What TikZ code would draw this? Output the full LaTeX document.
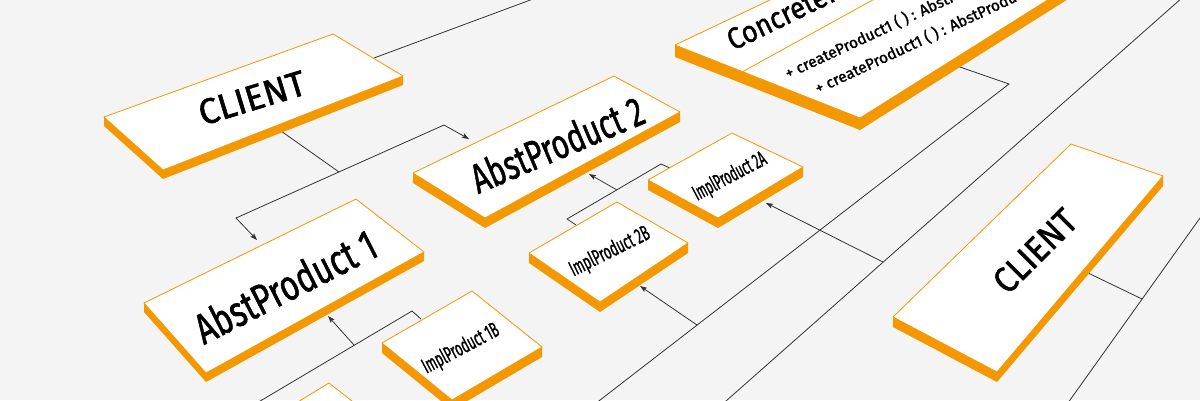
\documentclass[tikz,border=0pt]{standalone}
\usepackage{fontspec}
\setmainfont{Fira Sans}
\newfontfamily\labelfont{Fira Sans}[FakeBold=1.5]
\usepackage{graphicx}
\usetikzlibrary{arrows.meta, calc}
\definecolor{slaborange}{RGB}{243,152,0}
\definecolor{wiregray}{RGB}{51,51,51}
\definecolor{paper}{RGB}{244,244,244}
\tikzset{
  slabtop/.style={fill=white, draw=slaborange, line width=0.8pt, line join=round},
  slabside/.style={fill=slaborange},
  wire/.style={draw=wiregray, line width=0.8pt},
  >={Stealth[length=7pt,width=5pt,inset=1.5pt]},
  lbl/.style={inner sep=0pt, text=black, font=\labelfont},
}
% a slab: top face L-T-R-B plus the two visible sides, #2 = thickness
\newcommand{\slab}[2]{%
  \fill[slabside] (#1-L) -- (#1-B) -- (#1-R) -- ($(#1-R)+(0,#2)$)
    -- ($(#1-B)+(0,#2)$) -- ($(#1-L)+(0,#2)$) -- cycle;
  \filldraw[slabtop] (#1-L) -- (#1-T) -- (#1-R) -- (#1-B) -- cycle;
}

\begin{document}
\begin{tikzpicture}[x=1pt, y=-1pt]
  \useasboundingbox (0,0) rectangle (1200,400);
  \clip (0,0) rectangle (1200,400);
  \fill[paper] (0,0) rectangle (1200,400);

  % corners of the slabs
  \coordinate (cl1-L) at (104,117); \coordinate (cl1-T) at (333,34);
  \coordinate (cl1-R) at (403,76);  \coordinate (cl1-B) at (163,170);
  \coordinate (ap1-L) at (144,303); \coordinate (ap1-T) at (356,199);
  \coordinate (ap1-R) at (424,252); \coordinate (ap1-B) at (206,373);
  \coordinate (ap2-L) at (413,173); \coordinate (ap2-T) at (614,76);
  \coordinate (ap2-R) at (680,112); \coordinate (ap2-B) at (485,218);
  \coordinate (i2a-L) at (648,180); \coordinate (i2a-T) at (732,133);
  \coordinate (i2a-R) at (803,167); \coordinate (i2a-B) at (718,218);
  \coordinate (i2b-L) at (529,253); \coordinate (i2b-T) at (617,202);
  \coordinate (i2b-R) at (688,243); \coordinate (i2b-B) at (600,302);
  \coordinate (i1b-L) at (382,343); \coordinate (i1b-T) at (472,291);
  \coordinate (i1b-R) at (542,347); \coordinate (i1b-B) at (452,400);
  \coordinate (i1a-L) at (239,438); \coordinate (i1a-T) at (329,383);
  \coordinate (i1a-R) at (399,438); \coordinate (i1a-B) at (309,490);
  \coordinate (cl2-L) at (893,317); \coordinate (cl2-T) at (1071,144);
  \coordinate (cl2-R) at (1163,176); \coordinate (cl2-B) at (997,372);
  \coordinate (fac-L) at (675,45);  \coordinate (fac-T) at (979,-99);
  \coordinate (fac-R) at (1197,-94); \coordinate (fac-B) at (860,118);

  % connector points
  \coordinate (cl1-e) at (374,58);   \coordinate (fac-w) at (560,-11);
  \coordinate (cl1-s) at (281,131);  \coordinate (j-cl1) at (339,172);
  \coordinate (k-ap2) at (444,125);  \coordinate (k-ap1) at (236,218);
  \coordinate (ap2-in) at (469,139); \coordinate (ap1-in) at (257,240);
  \coordinate (i2a-n) at (670,168);  \coordinate (k-i2a) at (661,164);
  \coordinate (k-i2b) at (567,219);  \coordinate (i2b-n) at (576,225);
  \coordinate (j-ap2) at (617,190);  \coordinate (ap2-out) at (589,174);
  \coordinate (i1b-n) at (421,319);  \coordinate (k-i1b) at (412,311);
  \coordinate (i1a-n) at (240,413);
  \coordinate (j-ap1) at (354,345);  \coordinate (ap1-out) at (328,316);
  \coordinate (fac-s) at (957,66);   \coordinate (k-fac) at (1009,84);
  \coordinate (off-1) at (560,431);
  \coordinate (j-i2b) at (697,325);  \coordinate (i2b-s) at (640,286);
  \coordinate (off-2a) at (1200,-18); \coordinate (off-2b) at (700,424);
  \coordinate (j-i2a) at (883,262);  \coordinate (i2a-s) at (766,203);
  \coordinate (off-3a) at (1220,190); \coordinate (off-3b) at (1055,421);
  \coordinate (cl2-e) at (1086,272); \coordinate (j-cl2) at (1142,299);

  % connectors
  \draw[wire] (cl1-e) -- (fac-w);
  \draw[wire] (cl1-s) -- (j-cl1);
  \draw[wire, <->] (ap2-in) -- (k-ap2) -- (k-ap1) -- (ap1-in);
  \draw[wire] (i2a-n) -- (k-i2a) -- (k-i2b) -- (i2b-n);
  \draw[wire, ->] (j-ap2) -- (ap2-out);
  \draw[wire] (i1b-n) -- (k-i1b) -- (i1a-n);
  \draw[wire, ->] (j-ap1) -- (ap1-out);
  \draw[wire] (fac-s) -- (k-fac) -- (off-1);
  \draw[wire, ->] (j-i2b) -- (i2b-s);
  \draw[wire] (off-2a) -- (off-2b);
  \draw[wire, ->] (j-i2a) -- (i2a-s);
  \draw[wire] (off-3a) -- (off-3b);
  \draw[wire] (cl2-e) -- (j-cl2);

  % slabs
  \slab{cl1}{9}
  \slab{ap1}{9}
  \slab{ap2}{10}
  \slab{i2a}{10}
  \slab{i2b}{10}
  \slab{i1b}{10}
  \slab{i1a}{10}
  \slab{cl2}{10}
  \slab{fac}{12}
  \draw[draw=slaborange, line width=0.8pt] (742,72) -- (938,-36);

  % labels
  \node[lbl, rotate=17] (cl1-txt) at (252,98) {\resizebox{110pt}{25pt}{CLIENT}};
  \node[lbl, rotate=27] (ap1-txt) at (285,286) {\resizebox{198pt}{32pt}{AbstProduct 1}};
  \node[lbl, rotate=23] (ap2-txt) at (557,144) {\resizebox{184pt}{31pt}{AbstProduct 2}};
  \node[lbl, rotate=28] (i2a-txt) at (730,177) {\resizebox{80pt}{16pt}{ImplProduct 2A}};
  \node[lbl, rotate=26.5] (i2b-txt) at (610,252) {\resizebox{87pt}{16pt}{ImplProduct 2B}};
  \node[lbl, rotate=28] (i1b-txt) at (461,349) {\resizebox{84pt}{16pt}{ImplProduct 1B}};
  \node[lbl, rotate=45] (cl2-txt) at (1035,251) {\resizebox{102pt}{25pt}{CLIENT}};
  \node[lbl, rotate=26, anchor=base west] (fac-txt) at (733,51)
    {\scalebox{0.9}[1]{\fontsize{30}{30}\selectfont ConcreteFactory}};
  \node[lbl, rotate=25, anchor=base west] (fac-m1) at (788,79)
    {\fontsize{15.5}{15.5}\selectfont + createProduct1 ( ) : AbstProduct1};
  \node[lbl, rotate=25, anchor=base west] (fac-m2) at (818,94)
    {\fontsize{15.5}{15.5}\selectfont + createProduct1 ( ) : AbstProduct2};
\end{tikzpicture}
\end{document}
